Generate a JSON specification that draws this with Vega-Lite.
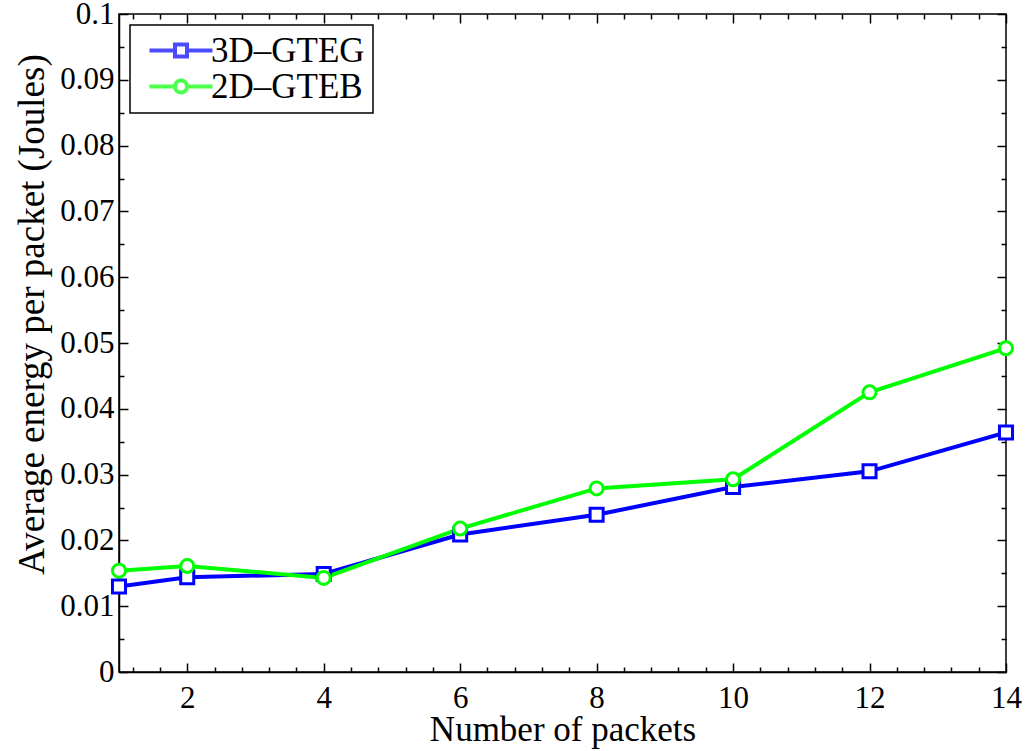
{
  "$schema": "https://vega.github.io/schema/vega-lite/v6.json",
  "autosize": "none",
  "width": 887,
  "height": 658,
  "padding": {"left": 119, "top": 14, "right": 22, "bottom": 79},
  "background": "white",
  "config": {
    "font": "Liberation Serif",
    "view": {"stroke": "black", "strokeWidth": 1.5},
    "axis": {"grid": false, "domainColor": "black", "tickColor": "black", "labelColor": "black", "titleColor": "black", "titleFontWeight": "normal", "labelFontSize": 31, "titleFontSize": 35, "tickWidth": 1.5, "domainWidth": 1.5},
    "legend": {"labelFontSize": 35, "labelColor": "black", "strokeWidth": 1.5}
  },
  "data": {"values": [
    {"packets": 1, "series": "3D–GTEG", "energy": 0.0130},
    {"packets": 2, "series": "3D–GTEG", "energy": 0.0144},
    {"packets": 4, "series": "3D–GTEG", "energy": 0.0149},
    {"packets": 6, "series": "3D–GTEG", "energy": 0.0209},
    {"packets": 8, "series": "3D–GTEG", "energy": 0.0239},
    {"packets": 10, "series": "3D–GTEG", "energy": 0.0281},
    {"packets": 12, "series": "3D–GTEG", "energy": 0.0305},
    {"packets": 14, "series": "3D–GTEG", "energy": 0.0364},
    {"packets": 1, "series": "2D–GTEB", "energy": 0.0154},
    {"packets": 2, "series": "2D–GTEB", "energy": 0.0161},
    {"packets": 4, "series": "2D–GTEB", "energy": 0.0143},
    {"packets": 6, "series": "2D–GTEB", "energy": 0.0218},
    {"packets": 8, "series": "2D–GTEB", "energy": 0.0279},
    {"packets": 10, "series": "2D–GTEB", "energy": 0.0293},
    {"packets": 12, "series": "2D–GTEB", "energy": 0.0425},
    {"packets": 14, "series": "2D–GTEB", "energy": 0.0492}
  ]},
  "layer": [
    {
      "mark": {"type": "line", "strokeWidth": 4, "clip": true},
      "encoding": {
        "x": {"field": "packets", "type": "quantitative", "scale": {"domain": [1, 14], "nice": false, "zero": false},
              "axis": {"orient": "bottom", "values": [2, 4, 6, 8, 10, 12, 14], "tickSize": -9, "labelPadding": 20, "labelFont": "Liberation Serif", "labelFontSize": 31, "titleFont": "Liberation Serif", "titleFontSize": 35, "titleFontWeight": "normal", "title": "Number of packets", "titleY": 68, "titleBaseline": "alphabetic", "titleX": 443.5, "labelFlush": false}},
        "y": {"field": "energy", "type": "quantitative", "scale": {"domain": [0, 0.1], "nice": false, "zero": false},
              "axis": {"orient": "left", "values": [0, 0.01, 0.02, 0.03, 0.04, 0.05, 0.06, 0.07, 0.08, 0.09, 0.1], "format": ".2~f", "tickSize": -9, "labelPadding": 14, "labelFlush": false, "labelFont": "Liberation Serif", "labelFontSize": 31, "titleFont": "Liberation Serif", "titleFontSize": 37, "titleFontWeight": "normal", "title": "Average energy per packet (Joules)", "titleX": -76, "titleY": 300, "titleAngle": 270, "titleBaseline": "alphabetic", "titleAlign": "center"}},
        "color": {"field": "series", "type": "nominal", "scale": {"domain": ["3D–GTEG", "2D–GTEB"], "range": ["#0000ff", "#00ff00"]}, "legend": null}
      }
    },
    {
      "mark": {"type": "point", "filled": true, "fill": "white", "size": 170, "strokeWidth": 3, "opacity": 1},
      "encoding": {
        "x": {"field": "packets", "type": "quantitative", "scale": {"domain": [1, 14], "nice": false, "zero": false},
              "axis": {"orient": "bottom", "values": [1.2, 1.6, 2.4, 2.8, 3.2, 3.6, 4.4, 4.8, 5.2, 5.6, 6.4, 6.8, 7.2, 7.6, 8.4, 8.8, 9.2, 9.6, 10.4, 10.8, 11.2, 11.6, 12.4, 12.8, 13.2, 13.6], "tickSize": -5, "labels": false, "title": null, "domain": false}},
        "y": {"field": "energy", "type": "quantitative", "scale": {"domain": [0, 0.1], "nice": false, "zero": false},
              "axis": {"orient": "left", "values": [0.005, 0.015, 0.025, 0.035, 0.045, 0.055, 0.065, 0.075, 0.085, 0.095], "tickSize": -5, "labels": false, "title": null, "domain": false}},
        "stroke": {"field": "series", "type": "nominal", "scale": {"domain": ["3D–GTEG", "2D–GTEB"], "range": ["#0000ff", "#00ff00"]}, "legend": null},
        "shape": {"field": "series", "type": "nominal", "scale": {"domain": ["3D–GTEG", "2D–GTEB"], "range": ["square", "circle"]}, "legend": null}
      }
    },
    {
      "transform": [{"filter": "datum.packets > 100"}],
      "mark": {"type": "point", "filled": true, "fill": "white", "size": 400, "strokeWidth": 4},
      "encoding": {
        "x": {"field": "packets", "type": "quantitative", "scale": {"domain": [1, 14], "nice": false, "zero": false},
              "axis": {"orient": "top", "values": [2, 4, 6, 8, 10, 12, 14], "tickSize": -9, "labels": false, "title": null, "domain": false}},
        "y": {"field": "energy", "type": "quantitative", "scale": {"domain": [0, 0.1], "nice": false, "zero": false},
              "axis": {"orient": "right", "values": [0, 0.01, 0.02, 0.03, 0.04, 0.05, 0.06, 0.07, 0.08, 0.09, 0.1], "tickSize": -9, "labels": false, "title": null, "domain": false}},
        "stroke": {"field": "series", "type": "nominal", "scale": {"domain": ["3D–GTEG", "2D–GTEB"], "range": ["#0000ff", "#00ff00"]},
                   "legend": {"title": null, "orient": "none", "legendX": 11, "legendY": 11, "strokeColor": "black", "fillColor": "white", "padding": 8, "labelOffset": 38, "symbolSize": 400, "symbolStrokeWidth": 4, "rowPadding": 0, "labelFont": "Liberation Serif", "labelFontSize": 35, "labelLimit": 0}},
        "shape": {"field": "series", "type": "nominal", "scale": {"domain": ["3D–GTEG", "2D–GTEB"], "range": ["M-0.6,0H1.95M3.15,0H5.7M1.95,-0.6H3.15V0.6H1.95Z", "M-0.6,0H1.95M3.15,0H5.7M1.95,0A0.6,0.6 0 1 0 3.15,0A0.6,0.6 0 1 0 1.95,0Z"]},
                  "legend": {"title": null, "orient": "none", "legendX": 11, "legendY": 11, "strokeColor": "black", "fillColor": "white", "padding": 8, "labelOffset": 38, "symbolSize": 400, "symbolStrokeWidth": 4, "rowPadding": 0, "labelFont": "Liberation Serif", "labelFontSize": 35, "labelLimit": 0}}
      }
    },
    {
      "transform": [{"filter": "datum.packets > 100"}],
      "mark": {"type": "point", "opacity": 0},
      "encoding": {
        "x": {"field": "packets", "type": "quantitative", "scale": {"domain": [1, 14], "nice": false, "zero": false},
              "axis": {"orient": "top", "values": [1.2, 1.6, 2.4, 2.8, 3.2, 3.6, 4.4, 4.8, 5.2, 5.6, 6.4, 6.8, 7.2, 7.6, 8.4, 8.8, 9.2, 9.6, 10.4, 10.8, 11.2, 11.6, 12.4, 12.8, 13.2, 13.6], "tickSize": -5, "labels": false, "title": null, "domain": false}},
        "y": {"field": "energy", "type": "quantitative", "scale": {"domain": [0, 0.1], "nice": false, "zero": false},
              "axis": {"orient": "right", "values": [0.005, 0.015, 0.025, 0.035, 0.045, 0.055, 0.065, 0.075, 0.085, 0.095], "tickSize": -5, "labels": false, "title": null, "domain": false}}
      }
    }
  ],
  "resolve": {
    "axis": {"x": "independent", "y": "independent"},
    "scale": {"shape": "independent"},
    "legend": {"color": "independent", "stroke": "independent", "shape": "independent"}
  }
}
